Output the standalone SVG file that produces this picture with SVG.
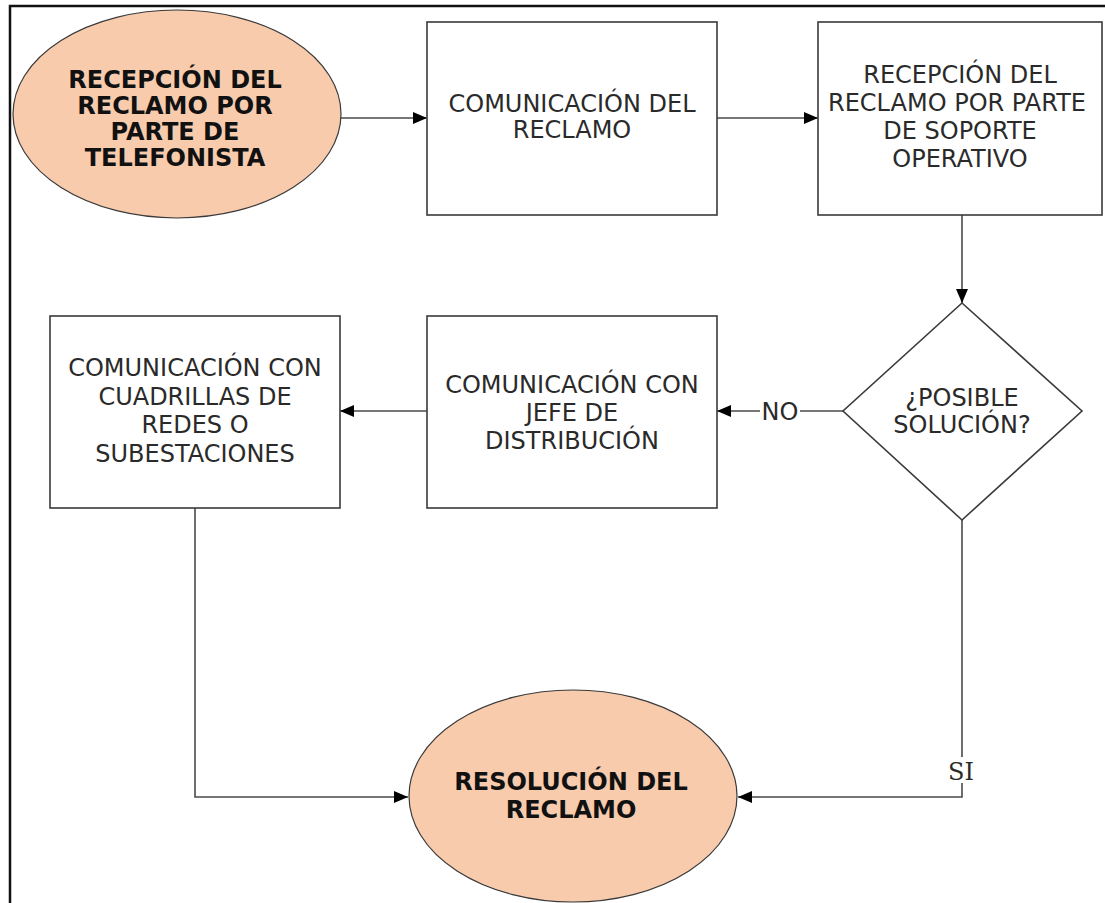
<svg xmlns="http://www.w3.org/2000/svg" width="1105" height="903" viewBox="0 0 1105 903">
  <style>
    .frame { fill: none; stroke: #111; stroke-width: 2.5; }
    .box { fill: #fff; stroke: #3a3a3a; stroke-width: 1.6; }
    .term { fill: #F8CBAD; stroke: #3a3a3a; stroke-width: 1.2; }
    .edge { fill: none; stroke: #4a4a4a; stroke-width: 1.6; }
    .t { font-family: "DejaVu Sans", Verdana, sans-serif; font-size: 24px; fill: #2a2a2a; text-anchor: middle; }
    .tb { font-family: "DejaVu Sans", Verdana, sans-serif; font-size: 24px; font-weight: bold; fill: #111; text-anchor: middle; }
    .lbl { font-family: "DejaVu Sans", Verdana, sans-serif; font-size: 24px; fill: #2a2a2a; text-anchor: middle; }
    .lbls { font-family: "DejaVu Serif", "Liberation Serif", serif; font-size: 24px; fill: #2a2a2a; text-anchor: middle; }
  </style>
  <defs>
    <marker id="arrow" markerUnits="userSpaceOnUse" markerWidth="15" markerHeight="13" refX="14" refY="6" orient="auto">
      <path d="M0,0 L14,6 L0,12 z" fill="#000"/>
    </marker>
  </defs>

  <rect width="1105" height="903" fill="#fff"/>
  <path class="frame" d="M10,903 V6 H1105"/>

  <!-- connectors -->
  <g id="connectors">
    <line class="edge" x1="340" y1="118" x2="427" y2="118" marker-end="url(#arrow)"/>
    <line class="edge" x1="717" y1="118" x2="818" y2="118" marker-end="url(#arrow)"/>
    <line class="edge" x1="962" y1="214" x2="962" y2="303" marker-end="url(#arrow)"/>
    <line class="edge" x1="843" y1="411" x2="717" y2="411" marker-end="url(#arrow)"/>
    <line class="edge" x1="427" y1="411" x2="340" y2="411" marker-end="url(#arrow)"/>
    <polyline class="edge" points="195,508 195,797 408,797" marker-end="url(#arrow)"/>
    <polyline class="edge" points="962,520 962,797 738,797" marker-end="url(#arrow)"/>
    <rect x="760" y="400" width="40" height="22" fill="#fff"/>
    <text class="lbl" x="780" y="420">NO</text>
    <rect x="946" y="757" width="30" height="26" fill="#fff"/>
    <text class="lbls" x="961" y="780">SI</text>
  </g>

  <g id="start">
    <ellipse class="term" cx="177" cy="114" rx="164" ry="104"/>
    <text class="tb" x="175" y="88">RECEPCIÓN DEL</text>
    <text class="tb" x="175" y="114">RECLAMO POR</text>
    <text class="tb" x="175" y="140">PARTE DE</text>
    <text class="tb" x="175" y="166">TELEFONISTA</text>
  </g>

  <g id="comunicacion">
    <rect class="box" x="427" y="22" width="290" height="193"/>
    <text class="t" x="572" y="112">COMUNICACIÓN DEL</text>
    <text class="t" x="572" y="138">RECLAMO</text>
  </g>

  <g id="soporte">
    <rect class="box" x="818" y="22" width="284" height="193"/>
    <text class="t" x="960" y="83">RECEPCIÓN DEL</text>
    <text class="t" x="957" y="111">RECLAMO POR PARTE</text>
    <text class="t" x="960" y="139">DE SOPORTE</text>
    <text class="t" x="960" y="167">OPERATIVO</text>
  </g>

  <g id="decision">
    <polygon class="box" points="962,303 1082,411 962,520 843,411"/>
    <text class="t" x="962" y="406">¿POSIBLE</text>
    <text class="t" x="962" y="433">SOLUCIÓN?</text>
  </g>

  <g id="jefe">
    <rect class="box" x="427" y="316" width="290" height="192"/>
    <text class="t" x="572" y="393">COMUNICACIÓN CON</text>
    <text class="t" x="572" y="421">JEFE DE</text>
    <text class="t" x="572" y="449">DISTRIBUCIÓN</text>
  </g>

  <g id="cuadrillas">
    <rect class="box" x="50" y="316" width="290" height="192"/>
    <text class="t" x="195" y="376">COMUNICACIÓN CON</text>
    <text class="t" x="195" y="405">CUADRILLAS DE</text>
    <text class="t" x="195" y="433">REDES O</text>
    <text class="t" x="195" y="462">SUBESTACIONES</text>
  </g>

  <g id="fin">
    <ellipse class="term" cx="573" cy="796" rx="164" ry="106"/>
    <text class="tb" x="571" y="790">RESOLUCIÓN DEL</text>
    <text class="tb" x="571" y="818">RECLAMO</text>
  </g>
</svg>
